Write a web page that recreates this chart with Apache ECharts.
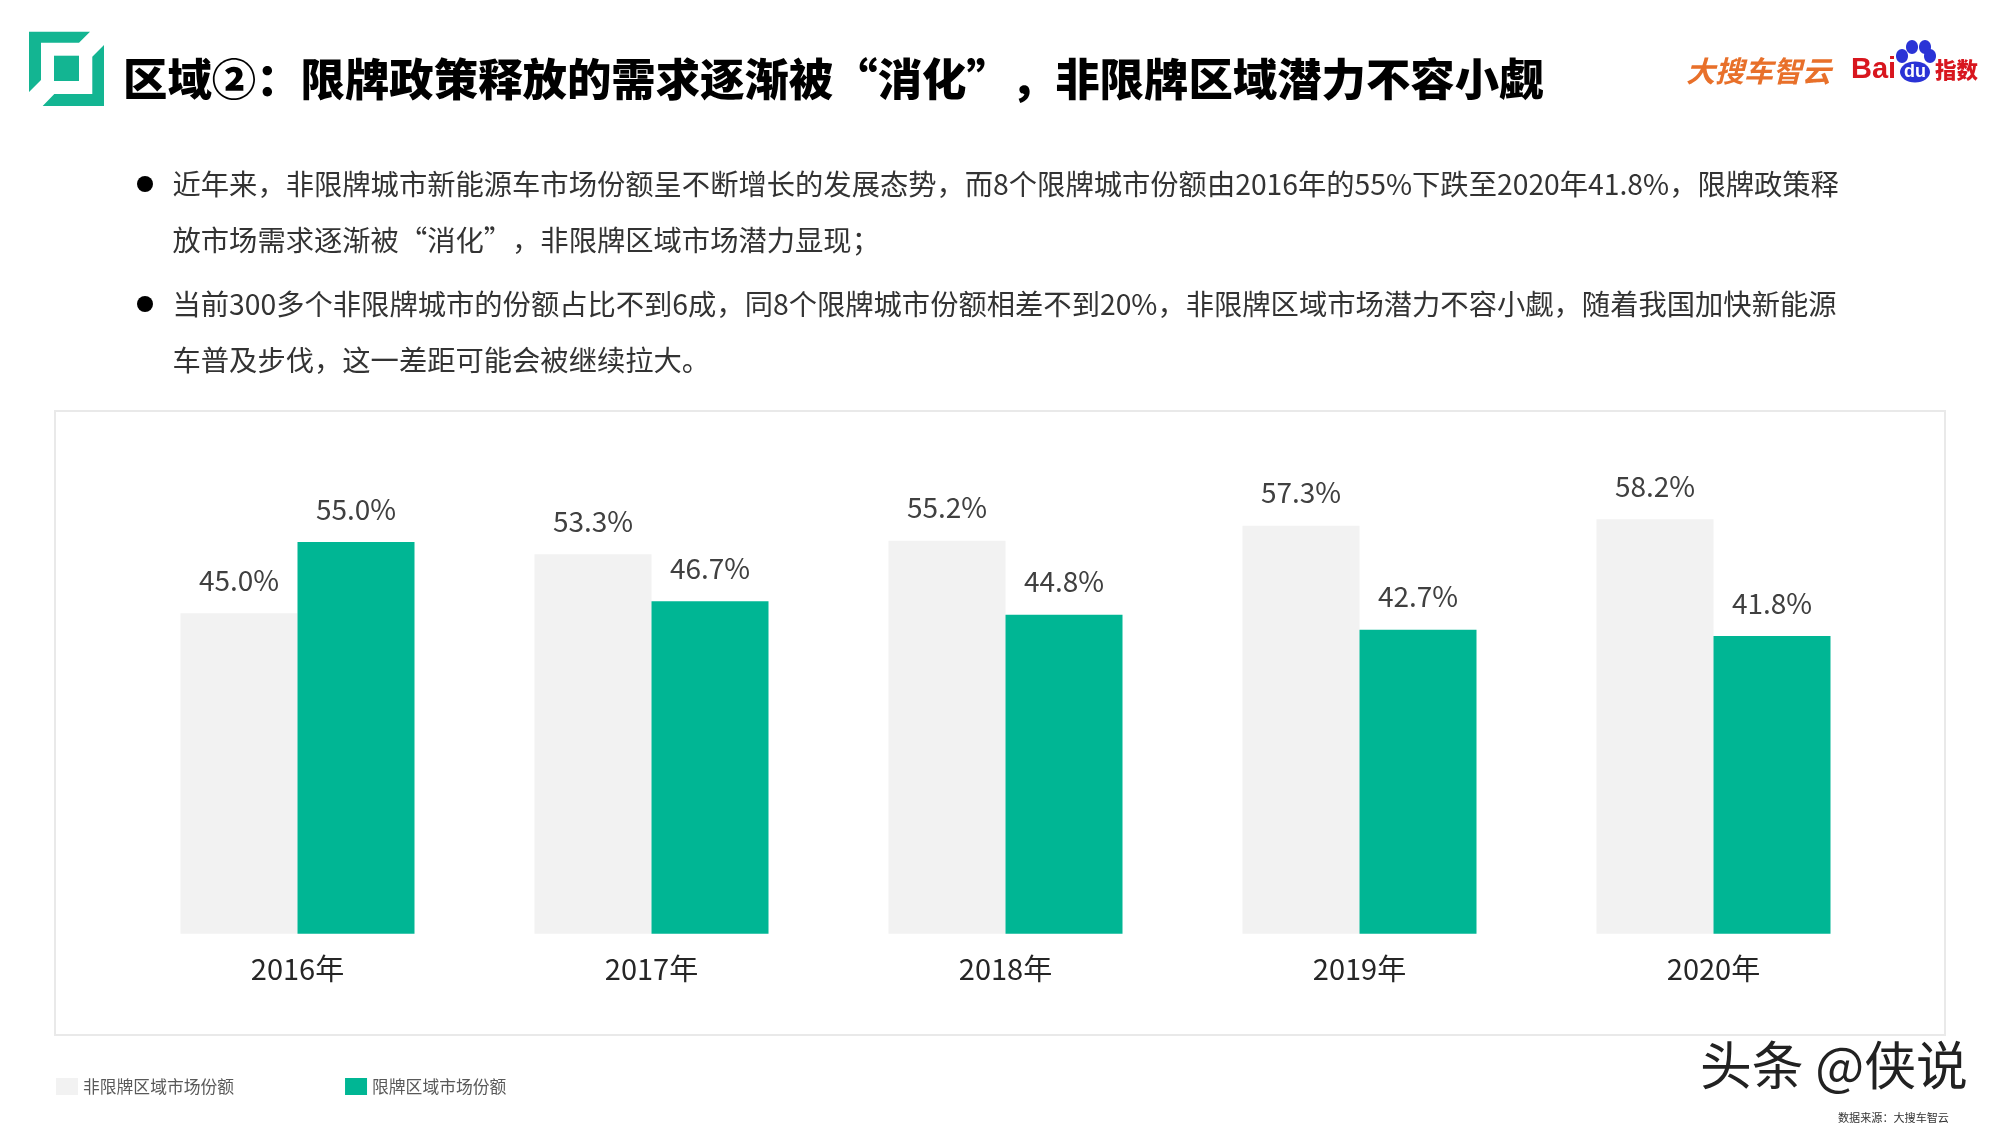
<!DOCTYPE html>
<html>
<head>
<meta charset="utf-8">
<title>区域②</title>
<style>
  html, body { margin: 0; padding: 0; background: #fff; }
  #chart { width: 2000px; height: 1125px; }
</style>
<script src="https://cdn.jsdelivr.net/npm/echarts@6/dist/echarts.min.js"></script>
</head>
<body>
<div id="chart"></div>
<script>
'use strict';

var years = ['2016年', '2017年', '2018年', '2019年', '2020年'];
var openShare = [45.0, 53.3, 55.2, 57.3, 58.2];
var limitShare = [55.0, 46.7, 44.8, 42.7, 41.8];
var seriesNames = ['非限牌区域市场份额', '限牌区域市场份额'];

var titleText = '区域②：限牌政策释放的需求逐渐被“消化”，非限牌区域潜力不容小觑';
var bodyLines = [
  '近年来，非限牌城市新能源车市场份额呈不断增长的发展态势，而8个限牌城市份额由2016年的55%下跌至2020年41.8%，限牌政策释',
  '放市场需求逐渐被“消化”，非限牌区域市场潜力显现；',
  '当前300多个非限牌城市的份额占比不到6成，同8个限牌城市份额相差不到20%，非限牌区域市场潜力不容小觑，随着我国加快新能源',
  '车普及步伐，这一差距可能会被继续拉大。'
];
var bodyLineY = [184, 240, 304, 360];
var bulletY = [184, 304];

var FONT = '"Noto Sans CJK SC", "Noto Sans", sans-serif';
var GREEN = '#00b694';
var GRAY = '#f2f2f2';
var LOGO_GREEN = '#13b592';
var BAIDU_RED = '#d8161e';
var BAIDU_BLUE = '#2a33d6';

function text(x, y, str, size, color, extra) {
  var style = { x: x, y: y, text: str, fontFamily: FONT, fontSize: size, fill: color, textVerticalAlign: 'middle' };
  for (var k in extra) style[k] = extra[k];
  return { type: 'text', silent: true, style: style };
}

function poly(points, color) {
  return { type: 'polygon', silent: true, shape: { points: points }, style: { fill: color } };
}

function oval(cx, cy, rx, ry) {
  return { type: 'ellipse', silent: true, shape: { cx: cx, cy: cy, rx: rx, ry: ry }, style: { fill: BAIDU_BLUE } };
}

var decor = [
  // panel behind the chart
  { type: 'rect', silent: true, z: -1, shape: { x: 55, y: 411, width: 1890, height: 624 },
    style: { fill: '#fff', stroke: '#e9e9e9', lineWidth: 2 } },

  // logo top left
  poly([[29, 31.7], [90, 31.7], [79, 42.7], [41, 42.7], [41, 80], [29, 92]], LOGO_GREEN),
  poly([[104, 45], [104, 106], [42.7, 106], [54.3, 94], [92.3, 94], [92.3, 56.7]], LOGO_GREEN),
  { type: 'rect', silent: true, shape: { x: 54, y: 55.7, width: 25, height: 25.3 }, style: { fill: LOGO_GREEN } },

  text(123, 79, titleText, 44.4, '#000', { fontWeight: 900 }),

  // brand marks top right
  text(1686, 71, '大搜车智云', 29, '#e8702a', { fontWeight: 'bold', fontStyle: 'italic' }),
  text(1851, 70, 'Bai', 29, BAIDU_RED, { fontWeight: 'bold', fontFamily: '"Liberation Sans", sans-serif' }),
  oval(1902, 56, 6, 7),
  oval(1912, 47, 6, 7),
  oval(1925, 47, 6, 7),
  oval(1930, 56, 6, 7),
  oval(1915, 72, 15, 10.5),
  text(1915, 72, 'du', 18, '#fff', { fontWeight: 'bold', textAlign: 'center', fontFamily: '"Liberation Sans", sans-serif' }),
  text(1935, 70, '指数', 21.5, BAIDU_RED, { fontWeight: 900 }),

  // footer
  text(1700, 1065, '头条 @侠说', 51.8, '#222'),
  text(1838, 1118, '数据来源：大搜车智云', 11.1, '#333')
];

for (var i = 0; i < bodyLines.length; i++) {
  decor.push(text(172.5, bodyLineY[i], bodyLines[i], 28.3, '#333'));
}
for (var j = 0; j < bulletY.length; j++) {
  decor.push({ type: 'circle', silent: true, shape: { cx: 145, cy: bulletY[j], r: 8 }, style: { fill: '#000' } });
}

function barSeries(name, values, color) {
  return {
    name: name,
    type: 'bar',
    data: values,
    barWidth: 117,
    barGap: 0,
    itemStyle: { color: color },
    label: {
      show: true,
      position: 'top',
      distance: 19,
      fontFamily: FONT,
      fontSize: 28,
      color: '#404040',
      formatter: function(p) { return p.value.toFixed(1) + '%'; }
    }
  };
}

var chart = echarts.init(document.getElementById('chart'));
chart.setOption({
  animation: false,
  backgroundColor: '#fff',
  grid: { left: 120.5, width: 1770, top: 506.5, height: 427.2 },
  legend: {
    left: 56,
    top: 1078,
    padding: 0,
    itemWidth: 22,
    itemHeight: 17,
    itemGap: 111,
    icon: 'rect',
    data: seriesNames,
    textStyle: { fontFamily: FONT, fontSize: 16.8, color: '#595959' }
  },
  xAxis: {
    type: 'category',
    data: years,
    axisLine: { show: false },
    axisTick: { show: false },
    axisLabel: { fontFamily: FONT, fontSize: 29, color: '#262626', margin: 21 }
  },
  yAxis: { type: 'value', min: 0, max: 60, show: false },
  series: [
    barSeries(seriesNames[0], openShare, GRAY),
    barSeries(seriesNames[1], limitShare, GREEN)
  ],
  graphic: decor
});
</script>
</body>
</html>
